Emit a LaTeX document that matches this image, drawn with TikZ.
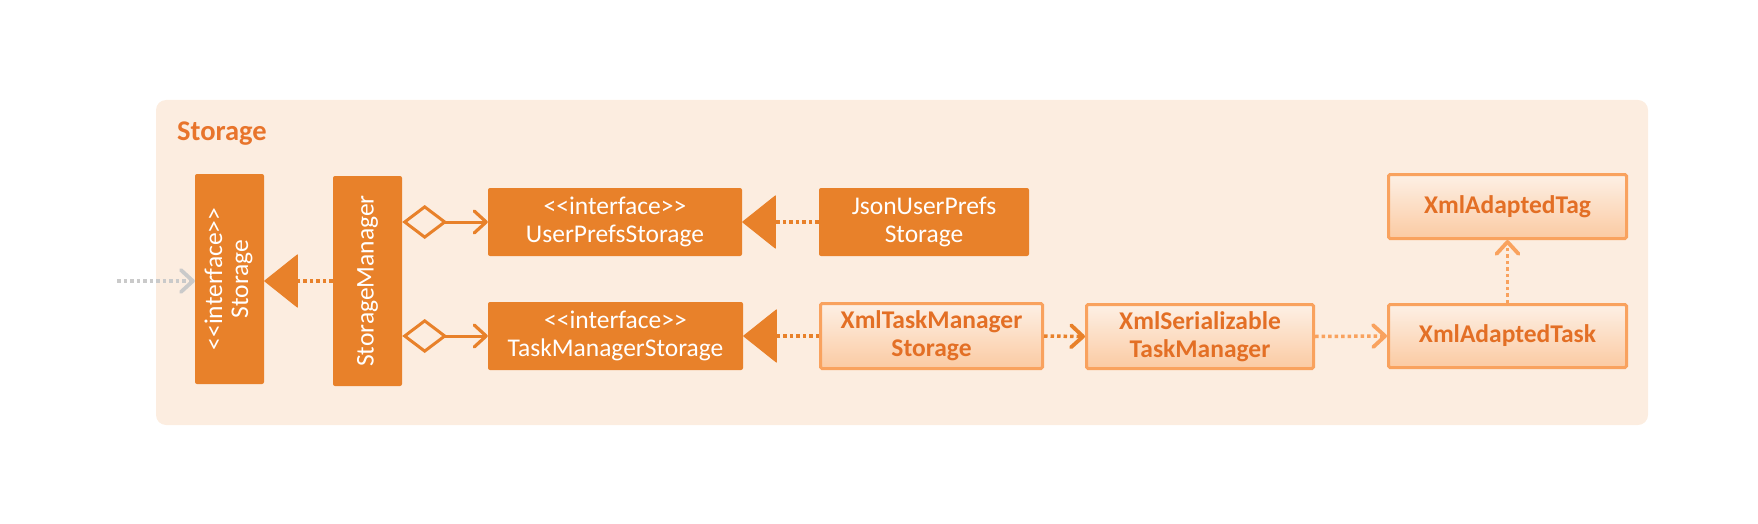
\documentclass[tikz,border=0pt]{standalone}
\usepackage{fontspec}
\setmainfont{Carlito}
\usetikzlibrary{arrows.meta}
\definecolor{dk}{HTML}{E8812A}
\definecolor{panel}{HTML}{FCEDE0}
\definecolor{lb}{HTML}{F9A25E}
\definecolor{lt}{HTML}{E36F25}
\definecolor{ttl}{HTML}{E8742B}
\definecolor{lgTop}{HTML}{FDF0E5}
\definecolor{lgBot}{HTML}{FBCAA2}
\definecolor{gr}{HTML}{CACACA}
\newcommand{\ltlt}{<\kern0pt<}
\newcommand{\gtgt}{>\kern0pt>}
\begin{document}
\begin{tikzpicture}[x=1pt,y=-1pt,
  dkbox/.style={draw=none, fill=dk, rounded corners=2pt, text=white,
    font=\fontsize{25.5}{28}\selectfont, align=center, inner sep=0pt},
  ltbox/.style={draw=lb, line width=3pt, top color=lgTop, bottom color=lgBot,
    rounded corners=1.5pt, text=lt, font=\bfseries\fontsize{25.5}{28}\selectfont,
    align=center, inner sep=0pt},
  dotline/.style={line width=3.5pt, dash pattern=on 3.5pt off 3pt},
  openhead/.style={-{Straight Barb[length=12pt,width=22pt,line width=3.8pt,line cap=round,line join=round]}},
  realize/.style={dotline, draw=dk, -{Triangle[length=34pt,width=54pt,line width=1pt,round]}},
  agg/.style={draw=dk, line width=3pt,
    {Diamond[length=45pt,width=34pt,fill=panel,line width=3pt]}-{Straight Barb[length=12pt,width=22pt,line width=3.2pt,line cap=round,line join=round]}}
]
\useasboundingbox (0,0) rectangle (1758,524);
\fill[panel, rounded corners=10pt] (156,100) rectangle (1648,425);
\node[anchor=base west, inner sep=0pt, text=ttl, font=\bfseries\fontsize{28.5}{30}\selectfont] (title) at (177,141) {Storage};

% boxes
\node[dkbox, minimum width=69pt, minimum height=210pt] (stor) at (229.5,279)
  {\rotatebox{90}{\begin{tabular}{@{}c@{}}\ltlt interface\gtgt\\[-2pt]Storage\end{tabular}}};
\node[dkbox, minimum width=69pt, minimum height=210pt] (sm) at (367.5,281)
  {\rotatebox{90}{StorageManager}};
\node[dkbox, minimum width=254pt, minimum height=68pt] (ups) at (615,222)
  {\ltlt interface\gtgt\\UserPrefsStorage};
\node[dkbox, minimum width=255pt, minimum height=68pt] (tms) at (615.5,336)
  {\ltlt interface\gtgt\\TaskManagerStorage};
\node[dkbox, minimum width=210pt, minimum height=68pt] (json) at (924,222)
  {JsonUserPrefs\\Storage};
\node[ltbox, minimum width=222pt, minimum height=65pt] (xtms) at (931.5,336)
  {XmlTaskManager\\Storage};
\node[ltbox, minimum width=227pt, minimum height=64pt] (xstm) at (1200,336.5)
  {XmlSerializable\\TaskManager};
\node[ltbox, minimum width=238pt, minimum height=63pt] (xtask) at (1507.5,336)
  {XmlAdaptedTask};
\node[ltbox, minimum width=238pt, minimum height=64pt] (xtag) at (1507.5,206.5)
  {XmlAdaptedTag};

% connectors
\coordinate (ext) at (117,281);
\draw[dotline, draw=gr, openhead] (ext) -- (ext -| stor.west);
\draw[realize] (sm.west |- ext) -- (stor.east |- ext);
\draw[agg] (sm.east |- ups.west) -- (ups.west);
\draw[agg] (sm.east |- tms.west) -- (tms.west);
\draw[realize] (json.west) -- (ups.east);
\draw[realize] (xtms.west) -- (tms.east);
\draw[dotline, draw=dk, openhead] (xtms.east) -- (xstm.west);
\draw[dotline, draw=lb, openhead] (xstm.east) -- (xtask.west);
\draw[dotline, draw=lb, openhead] (xtask.north) -- (xtag.south);
\end{tikzpicture}
\end{document}
